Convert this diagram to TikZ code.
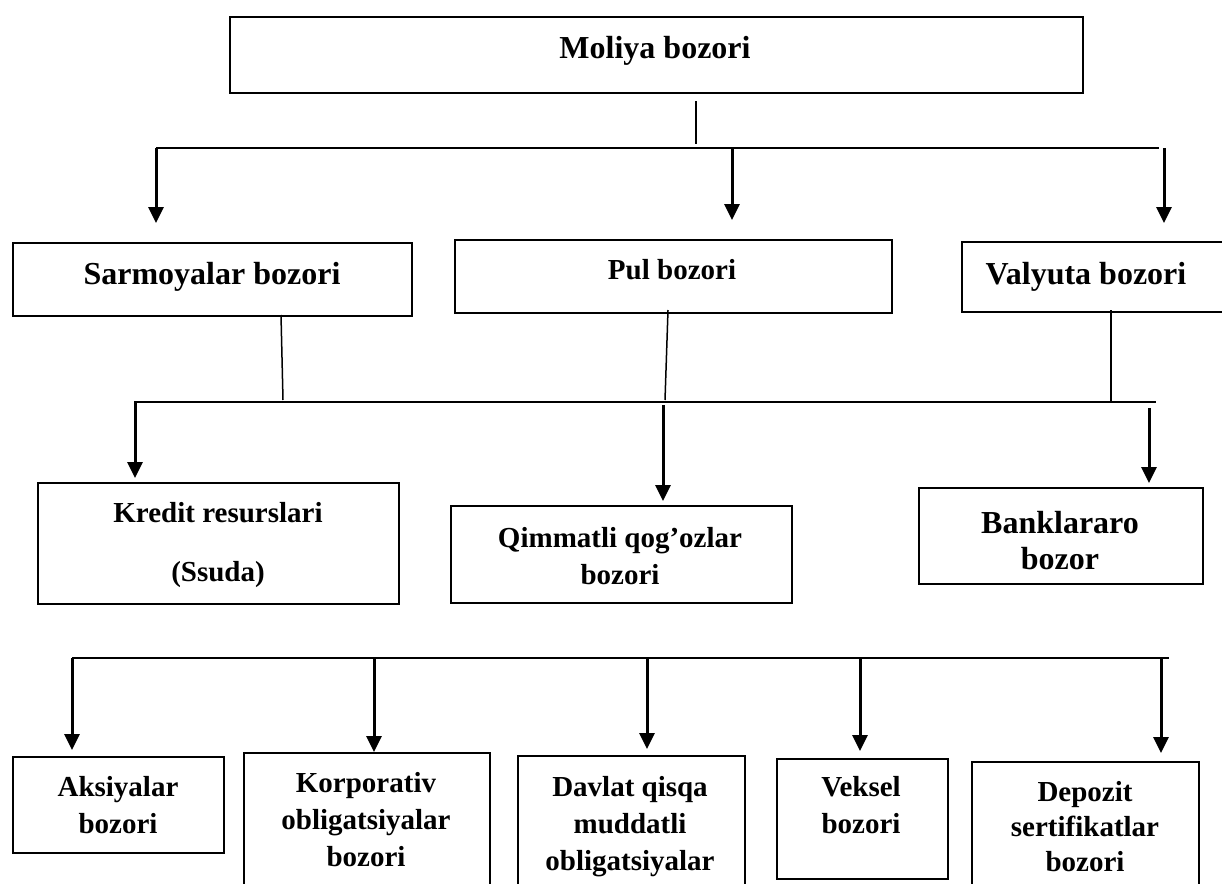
\documentclass[tikz,border=0pt]{standalone}
\usepackage{fontspec}
\setmainfont{Liberation Serif}
\usetikzlibrary{arrows.meta}
\begin{document}
\begin{tikzpicture}[x=1pt,y=-1pt,
  box/.style={draw=black,line width=2pt,anchor=north west,inner sep=0pt,
    minimum width=#1},
  boxh/.style={minimum height=#1},
  txt/.style={inner sep=0pt,anchor=north,align=center,
    font=\bfseries\fontsize{#1}{37}\selectfont},
  bus/.style={line width=2pt},
  stem/.style={line width=1.5pt},
  arr/.style={line width=3pt,-{Triangle[width=15pt,length=16pt]}}]

\useasboundingbox (0,0) rectangle (1222,883);
\clip (0,0) rectangle (1222,883);

% ---- level 1
\node[box=853pt,boxh=76pt] (top) at (229,16) {};
\node[txt=32] (t-top) at (655,36) {Moliya bozori};

% ---- level 2
\node[box=399pt,boxh=73pt] (sar) at (12,242) {};
\node[txt=32] (t-sar) at (212,262) {Sarmoyalar bozori};
\node[box=437pt,boxh=73pt] (pul) at (454,239) {};
\node[txt=29] (t-pul) at (672,259) {Pul bozori};
\node[box=279pt,boxh=70pt] (val) at (961,241) {};
\node[txt=32] (t-val) at (1086,262) {Valyuta bozori};

% ---- level 3
\node[box=361pt,boxh=121pt] (kre) at (37,482) {};
\node[txt=29,font=\bfseries\fontsize{29}{59}\selectfont] (t-kre) at (218,502)
  {Kredit resurslari\\(Ssuda)};
\node[box=341pt,boxh=97pt] (qim) at (450,505) {};
\node[txt=29] (t-qim) at (620,527) {Qimmatli qog’ozlar\\bozori};
\node[box=284pt,boxh=96pt] (ban) at (918,487) {};
\node[txt=32,font=\bfseries\fontsize{32}{36}\selectfont] (t-ban) at (1060,511)
  {Banklararo\\bozor};

% ---- level 4
\node[box=211pt,boxh=96pt] (aks) at (12,756) {};
\node[txt=29] (t-aks) at (118,776) {Aksiyalar\\bozori};
\node[box=246pt,boxh=150pt] (kor) at (243,752) {};
\node[txt=29] (t-kor) at (366,772) {Korporativ\\obligatsiyalar\\bozori};
\node[box=227pt,boxh=150pt] (dav) at (517,755) {};
\node[txt=29] (t-dav) at (630,776) {Davlat qisqa\\muddatli\\obligatsiyalar};
\node[box=171pt,boxh=120pt] (vek) at (776,758) {};
\node[txt=29] (t-vek) at (861,776) {Veksel\\bozori};
\node[box=227pt,boxh=150pt] (dep) at (971,761) {};
\node[txt=29,font=\bfseries\fontsize{29}{35}\selectfont] (t-dep) at (1085,781)
  {Depozit\\sertifikatlar\\bozori};

% ---- connector points
\coordinate (s0a) at (696,101);  \coordinate (s0b) at (696,144);
\coordinate (b1l) at (156,148);  \coordinate (b1r) at (1159,148);
\coordinate (b1m) at (732,148);  \coordinate (b1x) at (1164,148);
\coordinate (a1l) at (156,223);  \coordinate (a1m) at (732,220);
\coordinate (a1r) at (1164,223);

\coordinate (s1a) at (281,315);  \coordinate (s1b) at (283,400);
\coordinate (s2a) at (668,310);  \coordinate (s2b) at (665,400);
\coordinate (s3a) at (1111,310); \coordinate (s3b) at (1111,402);
\coordinate (b2l) at (134,402);  \coordinate (b2r) at (1156,402);
\coordinate (c2l) at (135,402);  \coordinate (a2l) at (135,478);
\coordinate (c2m) at (663,405);  \coordinate (a2m) at (663,501);
\coordinate (c2r) at (1149,408); \coordinate (a2r) at (1149,483);

\coordinate (b3l) at (72,658);   \coordinate (b3r) at (1169,658);
\coordinate (c3a) at (72,658);   \coordinate (a3a) at (72,750);
\coordinate (c3b) at (374,658);  \coordinate (a3b) at (374,752);
\coordinate (c3c) at (647,658);  \coordinate (a3c) at (647,749);
\coordinate (c3d) at (860,658);  \coordinate (a3d) at (860,751);
\coordinate (c3e) at (1161,658); \coordinate (a3e) at (1161,753);

% ---- level 1 -> level 2
\draw[stem] (s0a) -- (s0b);
\draw[bus] (b1l) -- (b1r);
\draw[arr] (b1l) -- (a1l);
\draw[arr] (b1m) -- (a1m);
\draw[arr] (b1x) -- (a1r);

% ---- level 2 -> level 3
\draw[stem] (s1a) -- (s1b);
\draw[stem] (s2a) -- (s2b);
\draw[stem] (s3a) -- (s3b);
\draw[bus] (b2l) -- (b2r);
\draw[arr] (c2l) -- (a2l);
\draw[arr] (c2m) -- (a2m);
\draw[arr] (c2r) -- (a2r);

% ---- level 3 -> level 4
\draw[bus] (b3l) -- (b3r);
\draw[arr] (c3a) -- (a3a);
\draw[arr] (c3b) -- (a3b);
\draw[arr] (c3c) -- (a3c);
\draw[arr] (c3d) -- (a3d);
\draw[arr] (c3e) -- (a3e);
\end{tikzpicture}
\end{document}
